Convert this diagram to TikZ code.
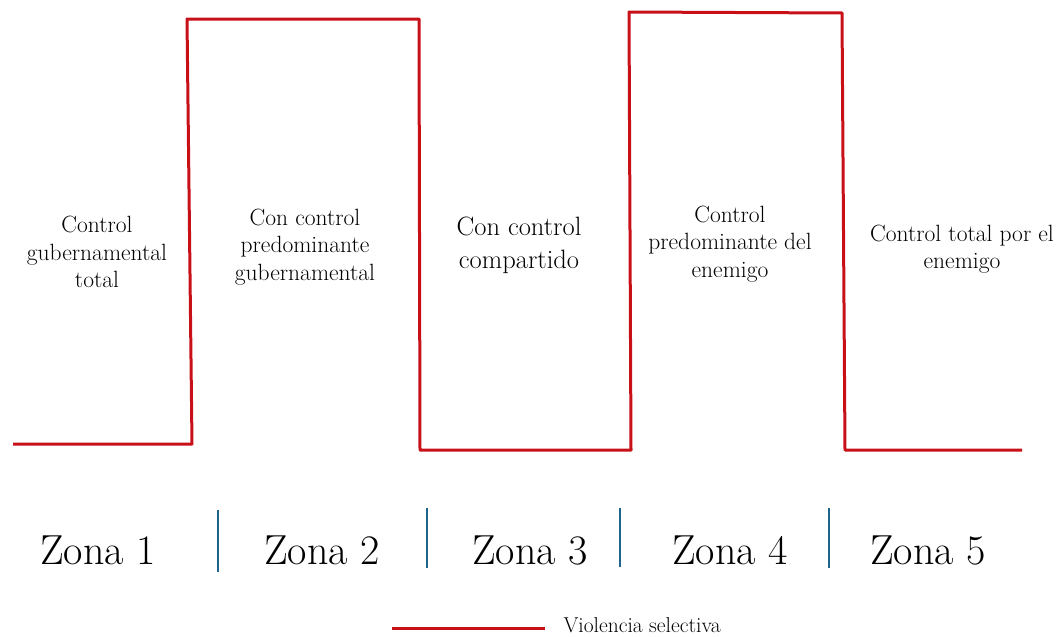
\documentclass[tikz,border=0pt]{standalone}
\usepackage{tikz}
\usetikzlibrary{positioning}
\definecolor{violred}{RGB}{200,16,24}
\definecolor{zoneblue}{RGB}{30,100,140}
\tikzstyle{zonetext}=[align=center,font=\fontsize{23.5}{27.5}\selectfont]
\tikzstyle{zonelabel}=[font=\fontsize{42}{48}\selectfont]
\tikzstyle{violence}=[draw=violred,line width=3pt,line join=round]
\tikzstyle{divider}=[draw=zoneblue,line width=2pt]

\begin{document}
\begin{tikzpicture}[x=1pt,y=-1pt]
  \useasboundingbox (0,0) rectangle (1058,637);
  % violence level
  \coordinate (v0) at (13,444);
  \coordinate (v1) at (192,444);
  \coordinate (v2) at (187,19);
  \coordinate (v3) at (419,19);
  \coordinate (v4) at (420,450);
  \coordinate (v5) at (631,450);
  \coordinate (v6) at (629,12);
  \coordinate (v7) at (842,13);
  \coordinate (v8) at (845,450);
  \coordinate (v9) at (1022,450);
  \draw[violence] (v0) -- (v1) -- (v2) -- (v3) -- (v4) -- (v5) -- (v6) -- (v7) -- (v8) -- (v9);
  % zone texts
  \node[zonetext] (ctrlgov) at (97,252) {Control\\gubernamental\\total};
  \node[zonetext] (predgov) at (305,247) {Con control\\predominante\\gubernamental};
  \node[zonetext,font=\fontsize{26.5}{33}\selectfont] (shared) at (519,245) {Con control\\compartido};
  \node[zonetext] (predene) at (730,244) {Control\\predominante del\\enemigo};
  \node[zonetext] (totalene) at (962,249) {Control total por el\\enemigo};
  % zone labels
  \node[zonelabel] (zona1) at (98,550) {Zona 1};
  \node[zonelabel] (zona2) at (322,550) {Zona 2};
  \node[zonelabel] (zona3) at (530,550) {Zona 3};
  \node[zonelabel] (zona4) at (730,550) {Zona 4};
  \node[zonelabel] (zona5) at (928,550) {Zona 5};
  % dividers
  \coordinate (d1a) at (218,510);  \coordinate (d1b) at (218,572);
  \coordinate (d2a) at (427,508);  \coordinate (d2b) at (427,568);
  \coordinate (d3a) at (620,508);  \coordinate (d3b) at (620,567);
  \coordinate (d4a) at (829,508);  \coordinate (d4b) at (829,568);
  \draw[divider] (d1a) -- (d1b);
  \draw[divider] (d2a) -- (d2b);
  \draw[divider] (d3a) -- (d3b);
  \draw[divider] (d4a) -- (d4b);
  % legend
  \coordinate (legendA) at (392,628);
  \coordinate (legendB) at (545,628);
  \node[right=15pt of legendB,yshift=3pt,font=\fontsize{21.5}{24}\selectfont] (legendtext) {Violencia selectiva};
  \draw[violence] (legendA) -- (legendB);
\end{tikzpicture}
\end{document}
